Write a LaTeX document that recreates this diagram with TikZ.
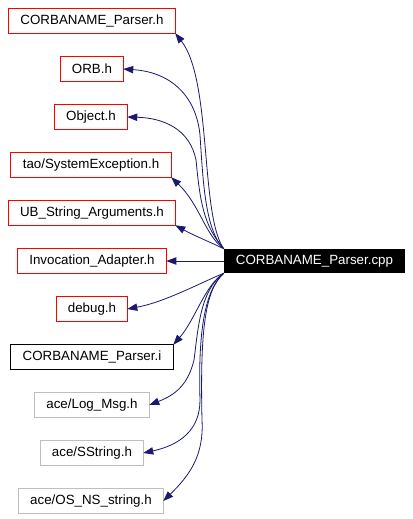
\documentclass[tikz,border=0pt]{standalone}
\usepackage{fontspec}
\setmainfont{Liberation Sans}
\usetikzlibrary{arrows.meta}
\definecolor{edgeblue}{HTML}{191970}
\definecolor{boxgray}{HTML}{BFBFBF}
\definecolor{boxred}{HTML}{FF0000}
\tikzset{
  filebox/.style={minimum height=18pt, inner sep=0pt, text=black, font=\fontsize{10}{12}\selectfont},
  redbox/.style={filebox},
  graybox/.style={filebox},
  blackbox/.style={filebox},
  mainbox/.style={filebox, fill=black, text=white},
  frame/.style={line width=0.75pt},
  dep/.style={draw=edgeblue, line width=0.6pt, -{Triangle[length=7.5pt,width=5.5pt]}}
}
\begin{document}
\begin{tikzpicture}[x=0.75pt,y=-0.75pt]
\useasboundingbox (0,0) rectangle (412,519);
\node[redbox, minimum width=124.5pt] (ph) at (92,21) {CORBANAME\_Parser.h};
\node[redbox, minimum width=46.5pt] (orb) at (92,69) {ORB.h};
\node[redbox, minimum width=54pt] (obj) at (91,117) {Object.h};
\node[redbox, minimum width=120pt] (sysex) at (91,165) {tao/SystemException.h};
\node[redbox, minimum width=124.5pt] (ub) at (92,213) {UB\_String\_Arguments.h};
\node[redbox, minimum width=111pt] (inv) at (92,261) {Invocation\_Adapter.h};
\node[mainbox, minimum width=135.75pt] (cpp) at (314.5,261) {CORBANAME\_Parser.cpp};
\node[redbox, minimum width=52.5pt] (dbg) at (92,309) {debug.h};
\node[blackbox, minimum width=121.5pt] (pi) at (92,357) {CORBANAME\_Parser.i};
\node[graybox, minimum width=85.5pt] (log) at (92,405) {ace/Log\_Msg.h};
\node[graybox, minimum width=76.5pt] (sstr) at (92,453) {ace/SString.h};
\node[graybox, minimum width=108pt] (os) at (91,501) {ace/OS\_NS\_string.h};

\foreach \n in {ph,orb,obj,sysex,ub,inv,dbg}
  \draw[frame, draw=boxred] (\n.south west) rectangle (\n.north east);
\draw[frame, draw=black] (pi.south west) rectangle (pi.north east);
\foreach \n in {log,sstr,os}
  \draw[frame, draw=boxgray] (\n.south west) rectangle (\n.north east);

\draw[dep] (cpp.north west) .. controls (200,215) and (212,80) .. (ph.south east);
\draw[dep] (cpp.north west) .. controls (205,230) and (203,180) .. (200,135) .. controls (196,95) and (170,72) .. (orb.east);
\draw[dep] (cpp.north west) .. controls (203,225) and (200,200) .. (196,160) .. controls (190,130) and (165,118) .. (obj.east);
\draw[dep] (cpp.north west) .. controls (205,235) and (200,205) .. (sysex.south east);
\draw[dep] (cpp.north west) .. controls (210,242) and (195,236) .. (ub.south east);
\draw[dep] (cpp.west) -- (inv.east);
\draw[dep] (cpp.south west) .. controls (200,283) and (165,302) .. (dbg.east);
\draw[dep] (cpp.south west) .. controls (205,285) and (195,320) .. (pi.north east);
\draw[dep] (cpp.south west) .. controls (200,290) and (198,330) .. (194,360) .. controls (188,385) and (175,395) .. (log.east);
\draw[dep] (cpp.south west) .. controls (205,290) and (198,330) .. (200,400) .. controls (200,430) and (180,445) .. (sstr.east);
\draw[dep] (cpp.south west) .. controls (205,290) and (200,330) .. (202,420) .. controls (204,455) and (190,475) .. (os.east);
\end{tikzpicture}
\end{document}
